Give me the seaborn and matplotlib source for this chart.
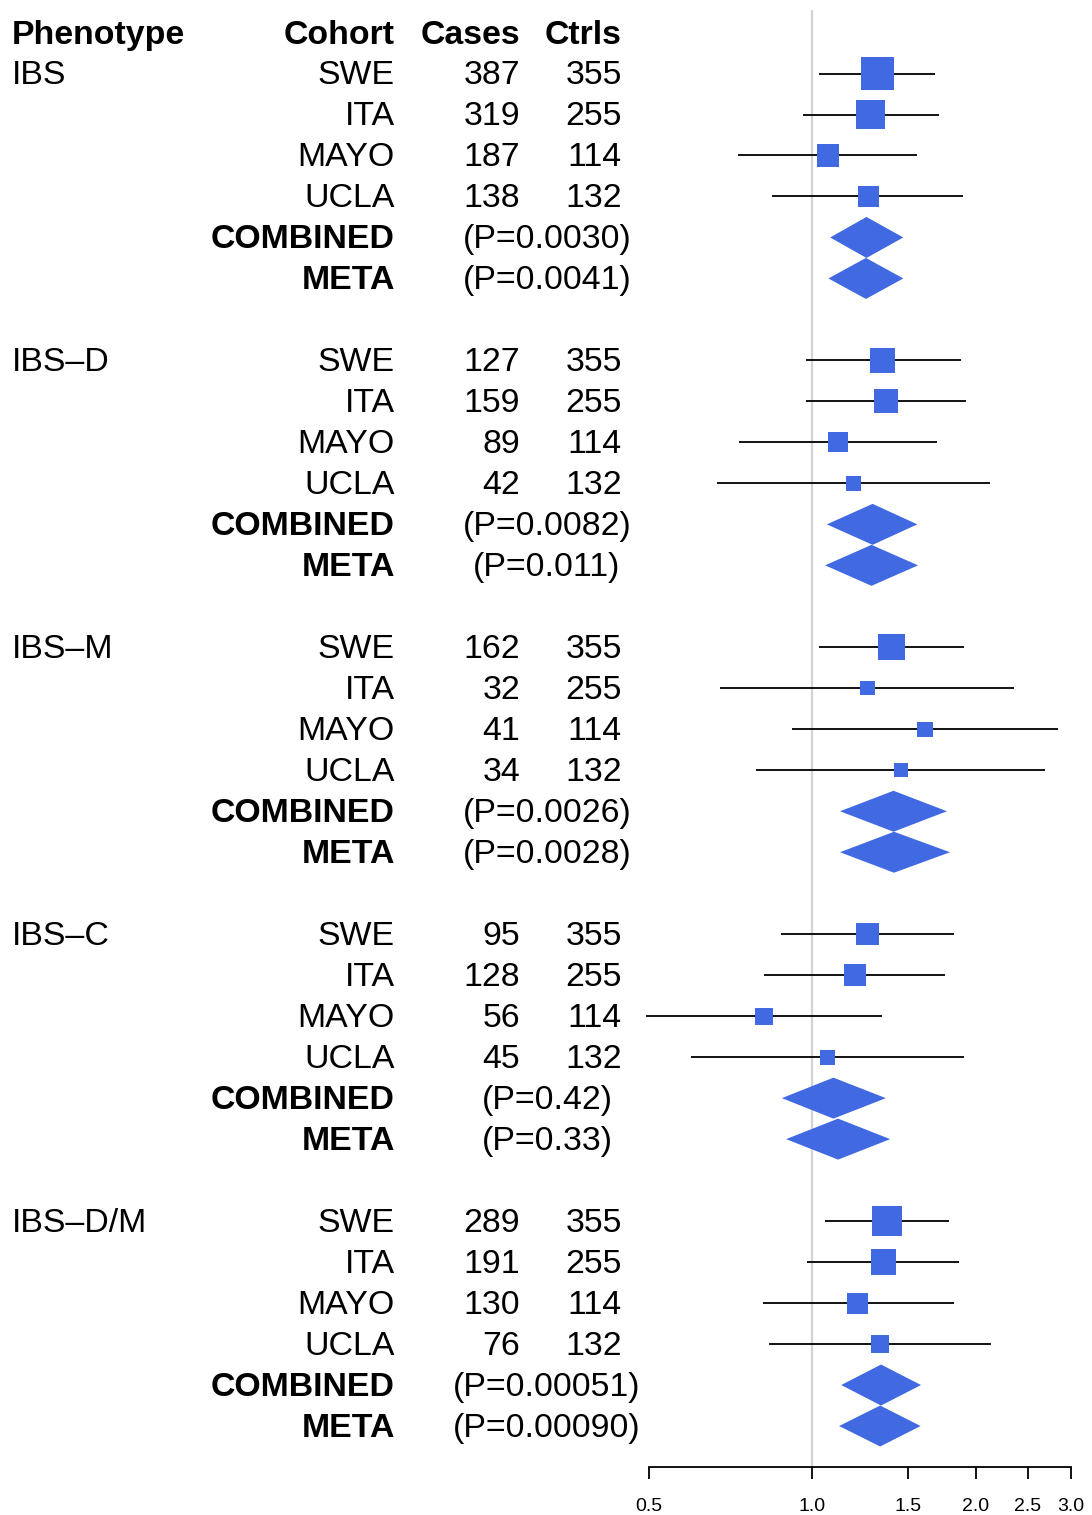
import numpy as np
import pandas as pd
import matplotlib
matplotlib.use("Agg")
import matplotlib.pyplot as plt
import matplotlib.transforms as mtransforms
from matplotlib.ticker import FixedLocator, NullLocator, FixedFormatter
import seaborn as sns

# --- Data ---
phenotypes = ["IBS", "IBS\u2013D", "IBS\u2013M", "IBS\u2013C", "IBS\u2013D/M"]
cohorts = ["SWE", "ITA", "MAYO", "UCLA"]
ctrls = [355, 255, 114, 132]
cases = [
    [387, 319, 187, 138],
    [127, 159, 89, 42],
    [162, 32, 41, 34],
    [95, 128, 56, 45],
    [289, 191, 130, 76],
]

# odds ratios and 95% CI per cohort
or_est = [
    [1.32, 1.28, 1.07, 1.27],
    [1.35, 1.37, 1.115, 1.19],
    [1.40, 1.264, 1.614, 1.456],
    [1.264, 1.198, 0.815, 1.068],
    [1.373, 1.352, 1.214, 1.333],
]
or_lo = [
    [1.03, 0.963, 0.73, 0.844],
    [0.974, 0.975, 0.733, 0.667],
    [1.027, 0.677, 0.917, 0.789],
    [0.875, 0.816, 0.494, 0.598],
    [1.055, 0.980, 0.811, 0.833],
]
or_hi = [
    [1.686, 1.71, 1.56, 1.899],
    [1.878, 1.923, 1.698, 2.13],
    [1.907, 2.359, 2.843, 2.683],
    [1.828, 1.757, 1.344, 1.907],
    [1.784, 1.865, 1.822, 2.136],
]
# relative study weight (box side as fraction of a row)
weights = [
    [0.80, 0.70, 0.54, 0.50],
    [0.61, 0.59, 0.49, 0.37],
    [0.64, 0.35, 0.37, 0.35],
    [0.55, 0.53, 0.42, 0.37],
    [0.75, 0.62, 0.51, 0.45],
]

# summary estimates: combined and meta-analysis
comb_est = [1.259, 1.292, 1.412, 1.094, 1.339]
comb_lo = [1.079, 1.064, 1.125, 0.879, 1.131]
comb_hi = [1.472, 1.562, 1.772, 1.367, 1.587]
comb_p = ["0.0030", "0.0082", "0.0026", "0.42", "0.00051"]

meta_est = [1.256, 1.286, 1.415, 1.116, 1.334]
meta_lo = [1.071, 1.056, 1.125, 0.895, 1.121]
meta_hi = [1.472, 1.567, 1.795, 1.392, 1.584]
meta_p = ["0.0041", "0.011", "0.0028", "0.33", "0.00090"]

x_ticks = [0.5, 1.0, 1.5, 2.0, 2.5, 3.0]

# --- Layout ---
W, H, DPI = 1092, 1515, 100
ROWS_PER_GROUP = 7
BLUE = "#4169E1"
FS = 24.4
TXT_DY = 0.06  # nudge text down so caps sit centred on the row

sns.set_theme(style="white")
plt.rcParams["font.family"] = ["Liberation Sans", "DejaVu Sans"]

fig = plt.figure(figsize=(W / DPI, H / DPI), dpi=DPI)
ax = fig.add_axes([649 / W, (H - 1467) / H, 422 / W, 1457 / H])
ax.set_xscale("log")
ax.set_xlim(0.5, 3.0)
ax.set_ylim(35, -0.55)

# build a tidy frame of study rows
recs = []
for g in range(len(phenotypes)):
    start = 1 + g * ROWS_PER_GROUP
    for i, c in enumerate(cohorts):
        recs.append(dict(row=start + i, est=or_est[g][i], lo=or_lo[g][i],
                         hi=or_hi[g][i], w=weights[g][i]))
df = pd.DataFrame(recs)
row_px = 1457 / 35.55
df["area"] = (df["w"] * row_px * 72 / DPI) ** 2

ax.axvline(1.0, color="#d3d3d3", lw=1.6, zorder=0)
ax.hlines(df["row"], df["lo"], df["hi"], color="black", lw=1.3, zorder=2, clip_on=False)
amin, amax = df["area"].min(), df["area"].max()
sns.scatterplot(data=df, x="est", y="row", size="area", sizes=(amin, amax),
                size_norm=(amin, amax), marker="s", color=BLUE, linewidth=0,
                legend=False, ax=ax, zorder=3)

for g in range(len(phenotypes)):
    start = 1 + g * ROWS_PER_GROUP
    for r, e, l, h in [(start + 4, comb_est[g], comb_lo[g], comb_hi[g]),
                       (start + 5, meta_est[g], meta_lo[g], meta_hi[g])]:
        ax.fill([l, e, h, e], [r, r - 0.5, r, r + 0.5], color=BLUE, lw=0, zorder=3)

# --- Text columns ---
tr = mtransforms.blended_transform_factory(fig.transFigure, ax.transData)
x_pheno, x_cohort, x_cases, x_ctrls, x_p = 12 / W, 395 / W, 520 / W, 622 / W, 547 / W

def put(x, y, s, ha, bold=False):
    ax.text(x, y + TXT_DY, s, transform=tr, ha=ha, va="center", fontsize=FS,
            fontweight="bold" if bold else "normal", color="black")

put(x_pheno, 0, "Phenotype", "left", True)
put(x_cohort, 0, "Cohort", "right", True)
put(x_cases, 0, "Cases", "right", True)
put(x_ctrls, 0, "Ctrls", "right", True)

for g, ph in enumerate(phenotypes):
    start = 1 + g * ROWS_PER_GROUP
    put(x_pheno, start, ph, "left")
    for i, c in enumerate(cohorts):
        put(x_cohort, start + i, c, "right")
        put(x_cases, start + i, str(cases[g][i]), "right")
        put(x_ctrls, start + i, str(ctrls[i]), "right")
    put(x_cohort, start + 4, "COMBINED", "right", True)
    put(x_p, start + 4, f"(P={comb_p[g]})", "center")
    put(x_cohort, start + 5, "META", "right", True)
    put(x_p, start + 5, f"(P={meta_p[g]})", "center")

# --- Axis ---
sns.despine(ax=ax, left=True)
ax.spines["bottom"].set_bounds(0.5, 3.0)
ax.spines["bottom"].set_linewidth(1.3)
ax.spines["bottom"].set_color("black")
ax.xaxis.set_major_locator(FixedLocator(x_ticks))
ax.xaxis.set_major_formatter(FixedFormatter([f"{t:.1f}" for t in x_ticks]))
ax.xaxis.set_minor_locator(NullLocator())
ax.tick_params(axis="x", bottom=True, length=8.5, width=1.3, color="black",
               pad=14, labelsize=14, labelcolor="black")
ax.set_yticks([])
ax.set_xlabel("")
ax.set_ylabel("")
ax.grid(False)

fig.savefig("out.png", dpi=DPI)
